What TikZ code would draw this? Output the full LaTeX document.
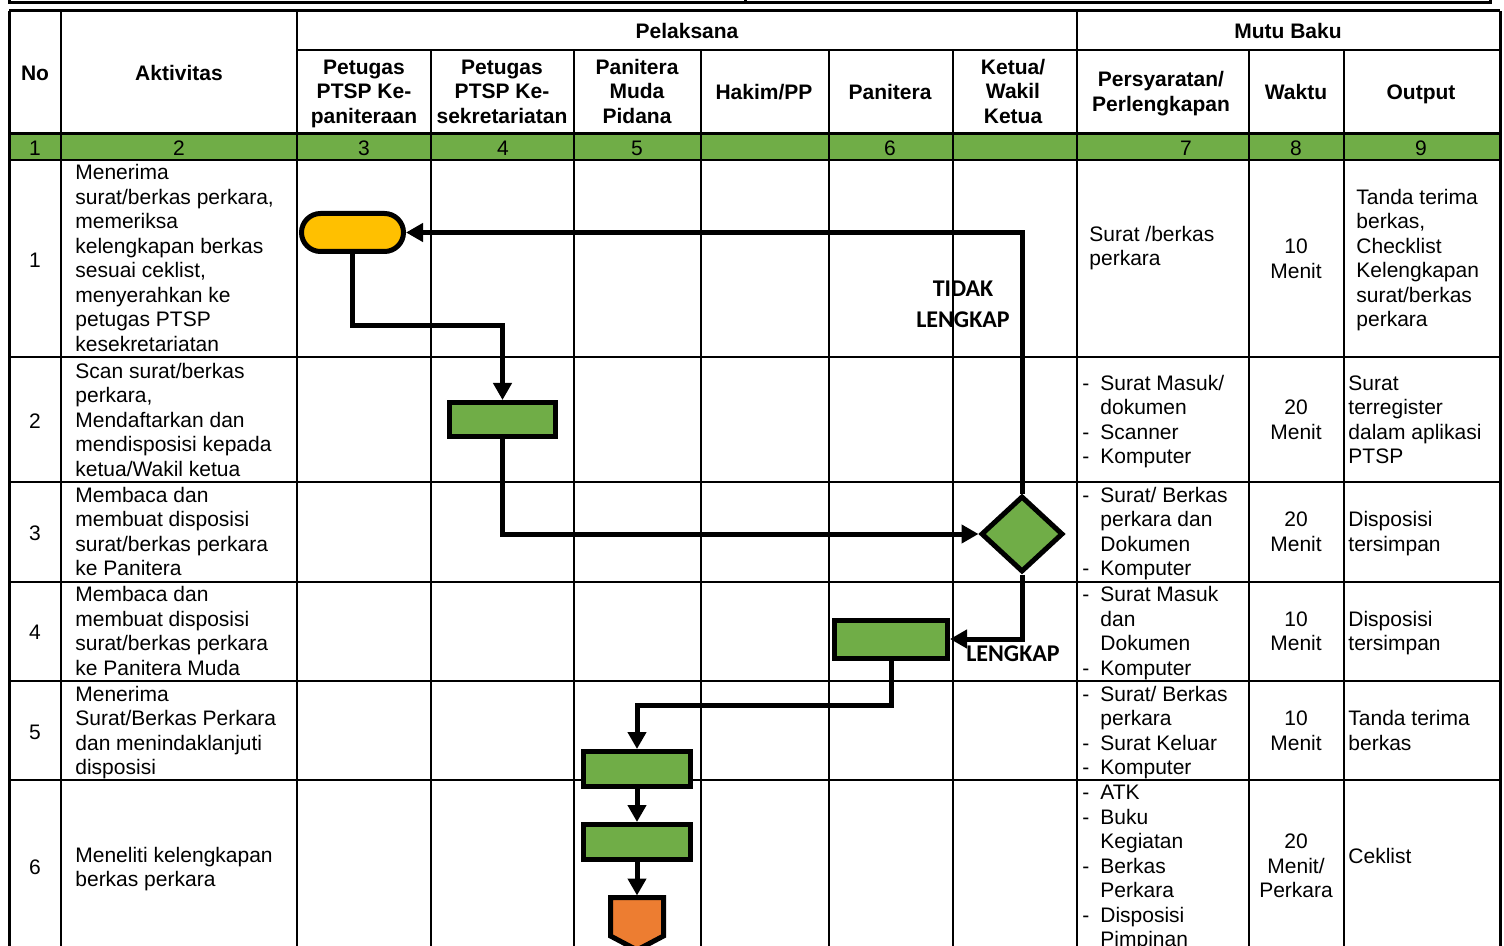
\documentclass[tikz,border=0pt]{standalone}
\usepackage{fontspec}
\setmainfont{Liberation Sans}
\newfontfamily\calib{Carlito}
\usetikzlibrary{arrows.meta,shapes.geometric}
\definecolor{fyellow}{HTML}{FFC000}
\definecolor{fgreen}{HTML}{70AD47}
\definecolor{forange}{HTML}{ED7D31}
\newcommand\dl{\makebox[9pt][l]{-}}
\newcommand\ind{\hspace*{9pt}}
\begin{document}
\begin{tikzpicture}[x=0.5pt,y=-0.5pt,
  thin/.style={line width=1pt},
  thick/.style={line width=1.5pt},
  hd/.style={font=\fontsize{10.5}{12.25}\selectfont\bfseries, align=center, inner sep=0pt, yshift=-2pt,
     execute at begin node=\strut, execute at end node=\strut},
  tx/.style={font=\fontsize{10.5}{12.25}\selectfont, align=left, inner sep=0pt, anchor=west, yshift=-1.6pt,
     execute at begin node=\strut, execute at end node=\strut},
  ct/.style={font=\fontsize{10.5}{12.25}\selectfont, align=center, inner sep=0pt, yshift=-1.6pt,
     execute at begin node=\strut, execute at end node=\strut},
  proc/.style={draw, line width=2.5pt, fill=fgreen, inner sep=0pt},
  flow/.style={line width=2.5pt, -{Triangle[length=8.5pt,width=9pt]}},
  lbl/.style={font=\fontsize{12}{15.5}\selectfont\calib\bfseries, align=center, inner sep=0pt,
     execute at begin node=\strut, execute at end node=\strut}
]
\useasboundingbox (0,0) rectangle (1504,946);
\clip (0,0) rectangle (1504,946);

% green number row
\fill[fgreen] (9,134) rectangle (1500,160);

% labels under the grid
\node[lbl] (tl) at (963,309) {TIDAK\\LENGKAP};
\node[lbl] (lk) at (1013,655) {LENGKAP};

% top strip
\draw[thick] (9,-2) -- (9,3) -- (1490,3) -- (1490,-2);
\draw[thick] (745,-2) -- (745,3);

% horizontal grid
\draw[thick] (9,11) -- (1500,11);
\draw[thin] (297,50) -- (1500,50);
\draw[thick] (9,134) -- (1500,134);
\draw[thin] (9,160) -- (1500,160);
\foreach \yy in {357,482,582,681,780}{\draw[thin] (9,\yy) -- (1500,\yy);}
% vertical grid
\draw[thick] (9,11) -- (9,950);
\draw[thick] (1500,11) -- (1500,950);
\foreach \xx in {61,297,1077}{\draw[thin] (\xx,11) -- (\xx,950);}
\foreach \xx in {431,574,701,829,953,1249,1344}{\draw[thin] (\xx,50) -- (\xx,950);}

% header
\node[hd] (hno) at (35,72) {No};
\node[hd] (hak) at (179,72) {Aktivitas};
\node[hd] (hpel) at (687,30) {Pelaksana};
\node[hd] (hmb) at (1288,30) {Mutu Baku};
\node[hd] (h3) at (364,91) {Petugas\\PTSP Ke-\\paniteraan};
\node[hd] (h4) at (502,91) {Petugas\\PTSP Ke-\\sekretariatan};
\node[hd] (h5) at (637,91) {Panitera\\Muda\\Pidana};
\node[hd] (hh) at (764,91) {Hakim/PP};
\node[hd] (hp) at (890,91) {Panitera};
\node[hd] (hk) at (1013,91) {Ketua/\\Wakil\\Ketua};
\node[hd] (hps) at (1161,91) {Persyaratan/\\Perlengkapan};
\node[hd] (hw) at (1296,91) {Waktu};
\node[hd] (ho) at (1421,91) {Output};

% number row
\node[ct] (g1) at (35,147) {1};
\node[ct] (g2) at (179,147) {2};
\node[ct] (g3) at (364,147) {3};
\node[ct] (g4) at (503,147) {4};
\node[ct] (g5) at (637,147) {5};
\node[ct] (g6) at (890,147) {6};
\node[ct] (g7) at (1186,147) {7};
\node[ct] (g8) at (1296,147) {8};
\node[ct] (g9) at (1421,147) {9};

% No column
\node[ct] (n1) at (35,259) {1};
\node[ct] (n2) at (35,420) {2};
\node[ct] (n3) at (35,532) {3};
\node[ct] (n4) at (35,631.5) {4};
\node[ct] (n5) at (35,731) {5};
\node[ct] (n6) at (35,866.5) {6};

% Aktivitas
\node[tx] (a1) at (75,258.5) {Menerima\\surat/berkas perkara,\\memeriksa\\kelengkapan berkas\\sesuai ceklist,\\menyerahkan ke\\petugas PTSP\\kesekretariatan};
\node[tx] (a2) at (75,420) {Scan surat/berkas\\perkara,\\Mendaftarkan dan\\mendisposisi kepada\\ketua/Wakil ketua};
\node[tx] (a3) at (75,532) {Membaca dan\\membuat disposisi\\surat/berkas perkara\\ke Panitera};
\node[tx] (a4) at (75,631.5) {Membaca dan\\membuat disposisi\\surat/berkas perkara\\ke Panitera Muda};
\node[tx] (a5) at (75,731) {Menerima\\Surat/Berkas Perkara\\dan menindaklanjuti\\disposisi};
\node[tx] (a6) at (75,867.5) {Meneliti kelengkapan\\berkas perkara};

% Persyaratan
\node[tx] (p1) at (1089,246.5) {Surat /berkas\\perkara};
\node[tx] (p2) at (1082,420) {\dl Surat Masuk/\\\ind dokumen\\\dl Scanner\\\dl Komputer};
\node[tx] (p3) at (1082,532) {\dl Surat/ Berkas\\\ind perkara dan\\\ind Dokumen\\\dl Komputer};
\node[tx] (p4) at (1082,631.5) {\dl Surat Masuk\\\ind dan\\\ind Dokumen\\\dl Komputer};
\node[tx] (p5) at (1082,731) {\dl Surat/ Berkas\\\ind perkara\\\dl Surat Keluar\\\dl Komputer};
\node[tx] (p6) at (1082,866.5) {\dl ATK\\\dl Buku\\\ind Kegiatan\\\dl Berkas\\\ind Perkara\\\dl Disposisi\\\ind Pimpinan};

% Waktu
\node[ct] (w1) at (1296,259) {10\\Menit};
\node[ct] (w2) at (1296,420) {20\\Menit};
\node[ct] (w3) at (1296,532) {20\\Menit};
\node[ct] (w4) at (1296,631.5) {10\\Menit};
\node[ct] (w5) at (1296,731) {10\\Menit};
\node[ct] (w6) at (1296,866.5) {20\\Menit/\\Perkara};

% Output
\node[tx] (o1) at (1356,258.5) {Tanda terima\\berkas,\\Checklist\\Kelengkapan\\surat/berkas\\perkara};
\node[tx] (o2) at (1348,420) {Surat\\terregister\\dalam aplikasi\\PTSP};
\node[tx] (o3) at (1348,532) {Disposisi\\tersimpan};
\node[tx] (o4) at (1348,631.5) {Disposisi\\tersimpan};
\node[tx] (o5) at (1348,731) {Tanda terima\\berkas};
\node[tx] (o6) at (1348,855) {Ceklist};

% flowchart shapes
\node[draw, line width=2.5pt, fill=fyellow, rounded corners=9.5pt, minimum width=51pt, minimum height=19pt, inner sep=0pt] (term) at (352.5,232.5) {};
\node[proc, minimum width=53pt, minimum height=17pt] (box2) at (502.5,419.5) {};
\node[diamond, draw, line width=2.5pt, fill=fgreen, minimum width=41pt, minimum height=38pt, inner sep=0pt] (dia) at (1022,534) {};
\node[proc, minimum width=56.5pt, minimum height=19pt] (box4) at (891,639) {};
\node[proc, minimum width=53.5pt, minimum height=17.5pt] (box5) at (637,769) {};
\node[proc, minimum width=53.5pt, minimum height=17.5pt] (box6) at (637,842) {};
\filldraw[fill=forange, line width=2.5pt] (610.5,897.5) -- (663.5,897.5) -- (663.5,936) -- (637,950) -- (610.5,936) -- cycle;
\coordinate (off) at (637,895.5);
\coordinate (b1) at (502.5,326);
\coordinate (b2) at (891,705);

% connectors
\draw[flow] (term.south) |- (b1) -- (box2.north);
\draw[flow] (box2.south) |- (dia.west);
\draw[flow] (dia.north) |- (term.east);
\draw[flow] (dia.south) |- (box4.east);
\draw[flow] (box4.south) -- (b2) -| (box5.north);
\draw[flow] (box5.south) -- (box6.north);
\draw[flow] (box6.south) -- (off);
\end{tikzpicture}
\end{document}
